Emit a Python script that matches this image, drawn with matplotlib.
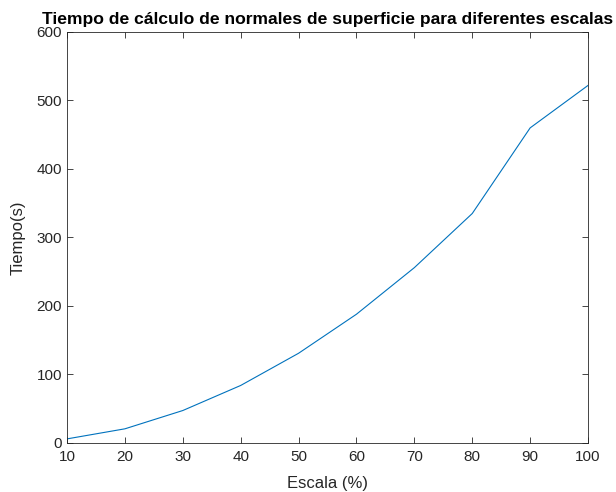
import matplotlib.pyplot as plt

escala = [10, 20, 30, 40, 50, 60, 70, 80, 90, 100]
tiempo = [6, 20.7, 47.4, 84, 131, 188, 256, 335, 460, 522]

plt.rcParams['font.family'] = ['Liberation Sans', 'DejaVu Sans']
dark = '#262626'

fig = plt.figure(figsize=(6.16, 4.92), dpi=100)
ax = fig.add_axes([0.1088, 0.0996, 0.8458, 0.8354])
ax.plot(escala, tiempo, color='#0072BD', linewidth=0.8)

ax.set_xlim(10, 100)
ax.set_ylim(0, 600)
ax.set_xticks(range(10, 101, 10))
ax.set_yticks(range(0, 601, 100))
ax.tick_params(direction='in', top=True, right=True, labelsize=11,
               colors=dark, length=4, width=0.6)
ax.tick_params(axis='x', pad=5)
for s in ax.spines.values():
    s.set_color(dark)
    s.set_linewidth(0.6)

ax.set_xlabel('Escala (%)', fontsize=12, color=dark, labelpad=9)
ax.set_ylabel('Tiempo(s)', fontsize=12, color=dark, labelpad=8)
ax.set_title('Tiempo de cálculo de normales de superficie para diferentes escalas',
             fontsize=12.6, fontweight='bold', color='black', pad=6)

fig.savefig('out.png', dpi=100)
